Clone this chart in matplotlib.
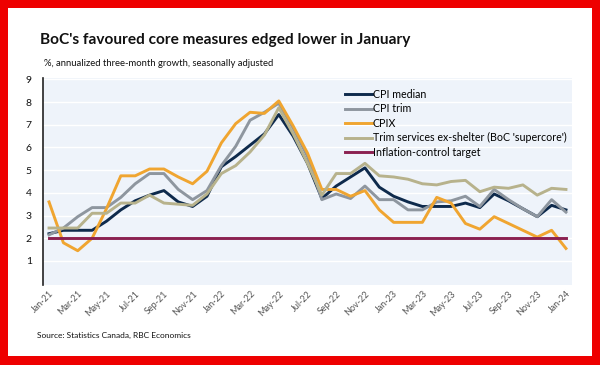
import matplotlib
matplotlib.use('Agg')
import matplotlib.pyplot as plt
from matplotlib.patches import Rectangle

plt.rcParams['font.family'] = ['Lato', 'DejaVu Sans']

# monthly, Jan-21 .. Jan-24
MONTHS = ['Jan', 'Feb', 'Mar', 'Apr', 'May', 'Jun',
          'Jul', 'Aug', 'Sep', 'Oct', 'Nov', 'Dec']
LABELS = [f'{m}-{y}' for y in (21, 22, 23) for m in MONTHS] + ['Jan-24']

cpi_median = [2.2, 2.35, 2.35, 2.35, 2.75, 3.25, 3.65, 3.9, 4.1, 3.6, 3.4, 3.85,
              5.15, 5.6, 6.1, 6.6, 7.45, 6.5, 5.3, 3.75, 4.3, 4.7, 5.1, 4.25,
              3.85, 3.6, 3.4, 3.4, 3.4, 3.55, 3.35, 3.95, 3.65, 3.3, 2.95, 3.45,
              3.25]
cpi_trim = [2.15, 2.45, 2.95, 3.35, 3.35, 3.8, 4.4, 4.85, 4.85, 4.15, 3.7, 4.1,
            5.2, 6.05, 7.2, 7.55, 7.95, 6.85, 5.6, 3.7, 3.95, 3.75, 4.3, 3.7,
            3.7, 3.25, 3.25, 3.6, 3.65, 3.85, 3.4, 4.15, 3.7, 3.3, 2.95, 3.7,
            3.15]
cpix = [3.6, 1.8, 1.45, 2.0, 3.3, 4.75, 4.75, 5.05, 5.05, 4.7, 4.4, 4.95,
        6.2, 7.05, 7.55, 7.5, 8.05, 6.95, 5.75, 4.15, 4.15, 3.85, 4.1, 3.25,
        2.7, 2.7, 2.7, 3.8, 3.55, 2.65, 2.4, 2.95, 2.65, 2.35, 2.05, 2.35,
        1.55]
supercore = [2.45, 2.45, 2.45, 3.1, 3.1, 3.55, 3.55, 3.9, 3.55, 3.5, 3.45, 3.95,
             4.85, 5.2, 5.8, 6.55, 7.75, 6.6, 5.3, 3.9, 4.85, 4.85, 5.3, 4.75,
             4.7, 4.6, 4.4, 4.35, 4.5, 4.55, 4.05, 4.25, 4.2, 4.35, 3.9, 4.2,
             4.15]
TARGET = 2.0

SERIES = [
    ('CPI median', cpi_median, '#0e2a4c'),
    ('CPI trim', cpi_trim, '#8e969f'),
    ('CPIX', cpix, '#f0a530'),
    ("Trim services ex-shelter (BoC 'supercore')", supercore, '#b7b28c'),
]
C_TARGET = '#8a2050'
RED, PLOT_BG, INK, INK2 = '#ee0000', '#eef3fa', '#111111', '#555555'


def fit_width(fig, txt, width_px):
    """shrink/grow a text so its rendered width matches the reference"""
    r = fig.canvas.get_renderer()
    w = txt.get_window_extent(r).width
    txt.set_fontsize(txt.get_fontsize() * width_px / w)


fig = plt.figure(figsize=(6.0, 3.65), dpi=100)
fig.patch.set_facecolor(RED)
fig.patches.append(Rectangle((8 / 600, 9 / 365), 584 / 600, 348 / 365,
                             transform=fig.transFigure, facecolor='white',
                             edgecolor='none', zorder=-10))

ax = fig.add_axes([43 / 600, 1 - 285 / 365, 529 / 600, 207 / 365])
ax.set_facecolor(PLOT_BG)
x = list(range(len(LABELS)))
for label, y, color in SERIES:
    ax.plot(x, y, color=color, lw=2.1, label=label)
ax.plot(x, [TARGET] * len(x), color=C_TARGET, lw=2.1,
        label='Inflation-control target')

ax.set_xlim(-0.42, 36.42)
ax.set_ylim(-0.06, 9.06)
ax.set_yticks(range(1, 10))
ax.set_xticks(x[::2])
ax.set_xticklabels(LABELS[::2], rotation=45, ha='right', rotation_mode='anchor',
                   fontsize=6.5, color=INK2)
ax.grid(axis='y', color='white', lw=1)
ax.set_axisbelow(True)
for side in ('top', 'right', 'bottom'):
    ax.spines[side].set_visible(False)
ax.spines['left'].set_color('#222222')
ax.spines['left'].set_linewidth(1.2)
ax.tick_params(axis='y', length=0, labelsize=7.5, colors=INK, pad=8)
ax.tick_params(axis='x', length=0, pad=3)

ax.legend(loc='upper left', bbox_to_anchor=(345 / 600, 1 - 89 / 365),
          bbox_transform=fig.transFigure, frameon=False,
          fontsize=7.7, handlelength=2.5, handletextpad=0.1,
          labelspacing=0.32, borderaxespad=0, borderpad=0)

title = fig.text(40 / 600, 1 - 40 / 365,
                 "BoC's favoured core measures edged lower in January",
                 fontsize=13, fontweight='bold', color=INK, va='center', ha='left')
sub = fig.text(44 / 600, 1 - 64 / 365,
               '%, annualized three-month growth, seasonally adjusted',
               fontsize=7.5, color=INK, va='center', ha='left')
src = fig.text(37 / 600, 1 - 335 / 365, 'Source: Statistics Canada, RBC Economics',
               fontsize=7.5, color=INK, va='center', ha='left')
fit_width(fig, title, 370)
fit_width(fig, sub, 228)
fit_width(fig, src, 153)

fig.savefig('out.png', dpi=100, facecolor=fig.get_facecolor())
